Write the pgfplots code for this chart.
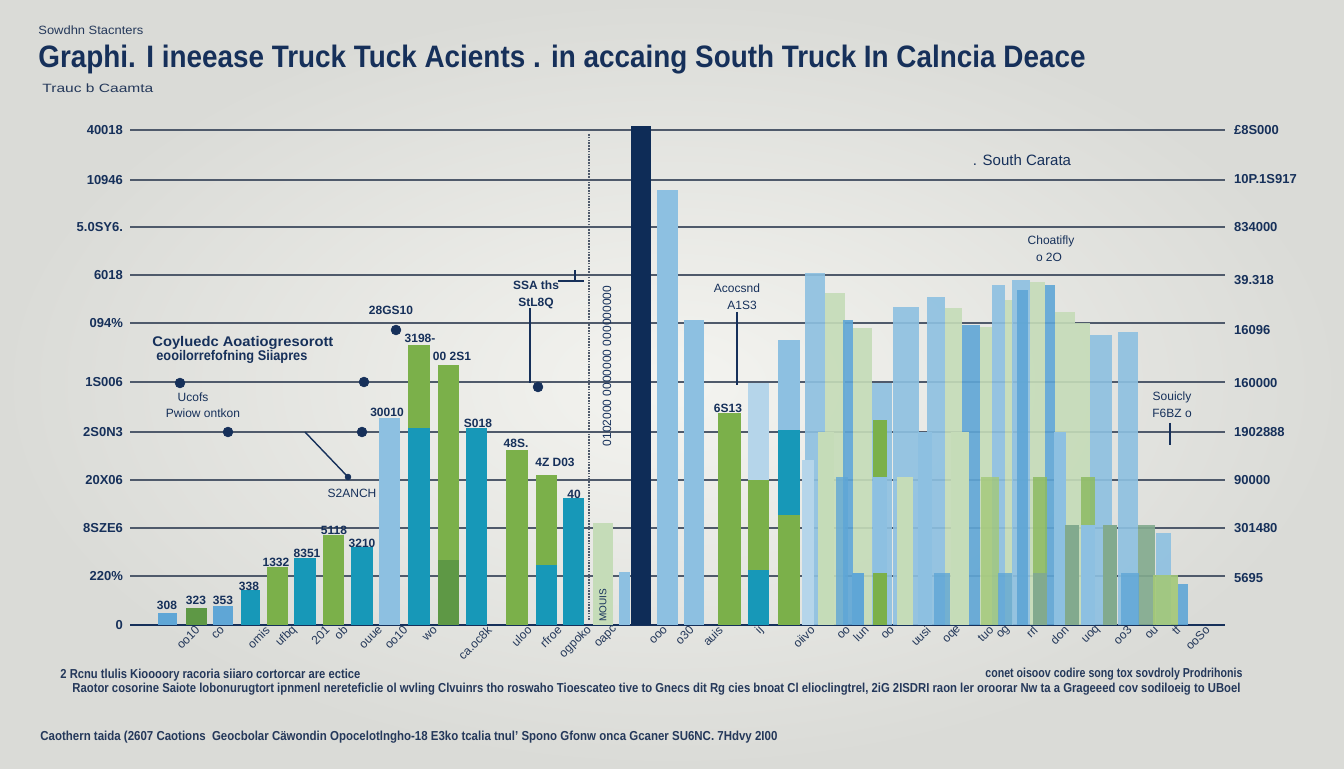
\documentclass[border=0pt]{standalone}
\usepackage{fontspec}
\setmainfont{Liberation Sans}
\usepackage{graphicx}
\usepackage{pgfplots}
\pgfplotsset{compat=1.18}
\definecolor{navy}{HTML}{16305A}
\definecolor{darknavy}{HTML}{0E2C57}
\definecolor{gridc}{HTML}{4F5A6B}
\definecolor{lblue}{HTML}{8DC0E1}
\definecolor{plblue}{HTML}{B5D5EA}
\definecolor{mblue}{HTML}{5FA6D6}
\definecolor{tealc}{HTML}{1798B8}
\definecolor{grn}{HTML}{7BB04A}
\definecolor{grnb}{HTML}{A3C878}
\definecolor{grnc}{HTML}{8DBB62}
\definecolor{dgrn}{HTML}{5E9845}
\definecolor{pgrn}{HTML}{C5DCB8}
\definecolor{sage}{HTML}{82AA8E}
\definecolor{bglight}{HTML}{F4F4F0}
\definecolor{bgdark}{HTML}{DADBD7}
\definecolor{txt}{HTML}{24385A}
\newcommand\tk{\fontsize{6.5}{7.5}\selectfont\bfseries}
\newcommand\bl{\fontsize{6}{7}\selectfont\bfseries}
\newcommand\sm{\fontsize{6}{7}\selectfont}
\pgfplotsset{B/.style={ybar, bar shift=0pt, draw=none, fill=#1}}
\begin{document}
\begin{tikzpicture}
\path[use as bounding box] (0,0) rectangle (672pt,384pt);
\shade[inner color=bglight, outer color=bgdark] (0,0) rectangle (672pt,384pt);
% header
\node[anchor=west, text=txt, inner sep=0pt] at (19pt,369pt) {\resizebox{52.5pt}{\height}{\sm Sowdhn Stacnters}};
\node[anchor=base west, text=navy, inner sep=0pt] at (19pt,350pt) {\resizebox{523.5pt}{\height}{\fontsize{15.5}{18}\selectfont\bfseries Graphi. I ineease Truck Tuck Acients . in accaing South Truck In Calncia Deace}};
\node[anchor=west, text=txt, inner sep=0pt] at (21pt,340pt) {\resizebox{55.5pt}{\height}{\sm Trauc b Caamta}};
% footer texts
\node[anchor=west, text=txt, inner sep=0pt] at (30pt,46.5pt) {\resizebox{150pt}{\height}{\tk 2 Rcnu tlulis Kioooory racoria siiaro cortorcar are ectice}};
\node[anchor=west, text=txt, inner sep=0pt] at (492.5pt,47pt) {\resizebox{128.5pt}{\height}{\tk conet oisoov codire song tox sovdroly Prodrihonis}};
\node[anchor=west, text=txt, inner sep=0pt] at (36pt,39.5pt) {\resizebox{584pt}{\height}{\tk Raotor cosorine Saiote lobonurugtort ipnmenl nereteficlie ol wvling Clvuinrs tho roswaho Tioescateo tive to Gnecs dit Rg cies bnoat Cl elioclingtrel, 2iG 2ISDRI raon ler oroorar Nw ta a Grageeed cov sodiloeig to UBoel}};
\node[anchor=west, text=txt, inner sep=0pt] at (20pt,15.5pt) {\resizebox{368.5pt}{\height}{\tk Caothern taida (2607 Caotions \ Geocbolar C\"awondin Opocelotlngho-18 E3ko tcalia tnul' Spono Gfonw onca Gcaner SU6NC. 7Hdvy 2I00}};

\begin{axis}[
  at={(65pt,71.5pt)}, anchor=south west,
  scale only axis, width=547.5pt, height=249.5pt,
  xmin=130, xmax=1225, ymin=0, ymax=499,
  axis x line*=bottom, axis y line*=left,
  x axis line style={draw=navy, line width=1pt, -},
  y axis line style={draw=none},
  ymajorgrids, grid style={gridc, line width=0.75pt},
  major tick length=0pt,
  ytick={0,49,97,145,193,243,302,350,398,445,495},
  yticklabels={0,220\%,8SZE6,20X06,2S0N3,1S006,094\%,6018,5.0SY6.,10946,40018},
  yticklabel style={font=\tk, text=navy},
  xtick={195,220,265,292,325,343,378,403,433,487,527,557,587,613,663,689,718,759,810,846,864,890,926,957,989,1006,1033,1064,1096,1127,1154,1176,1205},
  xticklabels={oo10,co,omis,ufbq,201,ob,ouue,oo10,wo,ca.oc8k,uloo,rfroe,ogpoko,oapc,ooo,o30,auis,ij,oiivo,oo,lun,oo,uusi,oqe,tuo,og,rrl,don,uoq,oo3,ou,tf,ooSo},
  xticklabel style={rotate=45, anchor=east, font=\fontsize{6}{7}\selectfont, text=txt, inner sep=0pt, yshift=-2pt},
  clip=false,
]
% main bars
\addplot[B=mblue, bar width=19] coordinates {(167,12)};
\addplot[B=dgrn, bar width=21] coordinates {(196,17)};
\addplot[B=mblue, bar width=20] coordinates {(223,19)};
\addplot[B=tealc, bar width=19] coordinates {(250,35)};
\addplot[B=grn, bar width=21] coordinates {(277,58)};
\addplot[B=tealc, bar width=22] coordinates {(305,67)};
\addplot[B=grn, bar width=21] coordinates {(333,90)};
\addplot[B=tealc, bar width=22] coordinates {(362,78)};
\addplot[B=lblue, bar width=21] coordinates {(389,207)};
\addplot[B=grn, bar width=22] coordinates {(419,280)};
\addplot[B=tealc, bar width=22] coordinates {(419,197)};
\addplot[B=grn, bar width=21] coordinates {(448,260)};
\addplot[B=dgrn, bar width=21] coordinates {(448,65)};
\addplot[B=tealc, bar width=21] coordinates {(476,197)};
\addplot[B=grn, bar width=22] coordinates {(517,175)};
\addplot[B=grn, bar width=21] coordinates {(546,150)};
\addplot[B=tealc, bar width=21] coordinates {(546,60)};
\addplot[B=tealc, bar width=21] coordinates {(573,127)};
\addplot[B=pgrn, bar width=20] coordinates {(603,102)};
\addplot[B=lblue, bar width=11] coordinates {(624,53)};
\addplot[B=darknavy, bar width=20] coordinates {(641,499)};
\addplot[B=lblue, bar width=21] coordinates {(667,435)};
\addplot[B=lblue, bar width=20] coordinates {(694,305)};
\addplot[B=grn, bar width=23] coordinates {(729,212)};
\addplot[B=plblue, bar width=21] coordinates {(758,242)};
\addplot[B=grn, bar width=21] coordinates {(758,145)};
\addplot[B=tealc, bar width=21] coordinates {(758,55)};
\addplot[B=lblue, bar width=22] coordinates {(789,285)};
\addplot[B=tealc, bar width=22] coordinates {(789,195)};
\addplot[B=grn, bar width=22] coordinates {(789,110)};
% cluster, back layer
\addplot[B=lblue, bar width=20, fill opacity=0.9] coordinates {(815,352)};
\addplot[B=pgrn, bar width=20, fill opacity=0.9] coordinates {(835,332)};
\addplot[B=mblue, bar width=10, fill opacity=0.9] coordinates {(848,305)};
\addplot[B=pgrn, bar width=19, fill opacity=0.9] coordinates {(862,297)};
\addplot[B=lblue, bar width=20, fill opacity=0.9] coordinates {(882,242)};
\addplot[B=lblue, bar width=26, fill opacity=0.9] coordinates {(906,318)};
\addplot[B=lblue, bar width=18, fill opacity=0.9] coordinates {(936,328)};
\addplot[B=pgrn, bar width=17, fill opacity=0.9] coordinates {(953,317)};
\addplot[B=mblue, bar width=18, fill opacity=0.9] coordinates {(971,300)};
\addplot[B=pgrn, bar width=12, fill opacity=0.9] coordinates {(986,298)};
\addplot[B=lblue, bar width=13, fill opacity=0.9] coordinates {(998,340)};
\addplot[B=pgrn, bar width=8, fill opacity=0.9] coordinates {(1009,325)};
\addplot[B=lblue, bar width=18, fill opacity=0.9] coordinates {(1021,345)};
\addplot[B=mblue, bar width=11, fill opacity=0.9] coordinates {(1022,335)};
\addplot[B=pgrn, bar width=15, fill opacity=0.9] coordinates {(1037,343)};
\addplot[B=mblue, bar width=10, fill opacity=0.9] coordinates {(1050,340)};
\addplot[B=pgrn, bar width=20, fill opacity=0.9] coordinates {(1065,313)};
\addplot[B=pgrn, bar width=15, fill opacity=0.9] coordinates {(1082,302)};
\addplot[B=lblue, bar width=22, fill opacity=0.9] coordinates {(1101,290)};
\addplot[B=lblue, bar width=20, fill opacity=0.9] coordinates {(1128,293)};
\addplot[B=sage, bar width=17, fill opacity=0.9] coordinates {(1146,100)};
\addplot[B=lblue, bar width=15, fill opacity=0.9] coordinates {(1163,92)};
\addplot[B=grnb, bar width=25, fill opacity=0.9] coordinates {(1165,50)};
\addplot[B=mblue, bar width=10, fill opacity=0.9] coordinates {(1183,41)};
% cluster, front layer
\addplot[B=plblue, bar width=12] coordinates {(808,165)};
\addplot[B=pgrn, bar width=16] coordinates {(826,193)};
\addplot[B=mblue, bar width=12, fill opacity=0.8] coordinates {(842,148)};
\addplot[B=grn, bar width=14] coordinates {(880,205)};
\addplot[B=lblue, bar width=14] coordinates {(880,148)};
\addplot[B=grn, bar width=14] coordinates {(880,52)};
\addplot[B=mblue, bar width=12] coordinates {(858,52)};
\addplot[B=pgrn, bar width=16] coordinates {(905,148)};
\addplot[B=lblue, bar width=14] coordinates {(925,193)};
\addplot[B=mblue, bar width=16, fill opacity=0.8] coordinates {(942,52)};
\addplot[B=pgrn, bar width=18] coordinates {(960,193)};
\addplot[B=grnb, bar width=18, fill opacity=0.8] coordinates {(990,148)};
\addplot[B=mblue, bar width=14, fill opacity=0.8] coordinates {(1005,52)};
\addplot[B=grnc, bar width=14, fill opacity=0.85] coordinates {(1040,148)};
\addplot[B=sage, bar width=14] coordinates {(1040,52)};
\addplot[B=lblue, bar width=12] coordinates {(1060,193)};
\addplot[B=sage, bar width=14] coordinates {(1072,100)};
\addplot[B=grnc, bar width=14, fill opacity=0.85] coordinates {(1088,148)};
\addplot[B=lblue, bar width=14] coordinates {(1088,100)};
\addplot[B=sage, bar width=14] coordinates {(1110,100)};
\addplot[B=mblue, bar width=18, fill opacity=0.8] coordinates {(1130,52)};
% dotted divider and annotation lines
\addplot[gridc, line width=1.2pt, dash pattern=on 0.8pt off 0.6pt] coordinates {(589,5) (589,492)};
\addplot[navy, line width=0.7pt] coordinates {(305,193) (348,148)};
\addplot[navy, line width=0.7pt] coordinates {(530,317) (530,242)};
\addplot[navy, line width=0.7pt] coordinates {(558,344) (584,344)};
\addplot[navy, line width=0.7pt] coordinates {(575,355) (575,344)};
\addplot[navy, line width=0.7pt] coordinates {(737,313) (737,240)};
\addplot[navy, line width=1.4pt] coordinates {(1170,202) (1170,180)};
\addplot[only marks, mark=*, mark size=2.4pt, navy] coordinates {(180,242) (228,193) (364,243) (362,193) (396,295) (538,238)};
\addplot[only marks, mark=*, mark size=1.4pt, navy] coordinates {(348,148)};
% annotations
\node[text=navy, font=\bl] at (391,315) {28GS10};
\node[anchor=west, text=navy, inner sep=0pt] at (152,282) {\resizebox{90.5pt}{\height}{\fontsize{7}{8}\selectfont\bfseries Coyluedc Aoatiogresorott}};
\node[anchor=west, text=navy, inner sep=0pt] at (156,268) {\resizebox{75.5pt}{\height}{\fontsize{7}{8}\selectfont\bfseries eooilorrefofning Siiapres}};
\node[text=navy, font=\sm] at (193,228) {Ucofs};
\node[text=navy, font=\sm] at (203,212) {Pwiow ontkon};
\node[text=navy, font=\sm] at (352,132) {S2ANCH};
\node[text=navy, font=\bl] at (536,340) {SSA ths};
\node[text=navy, font=\bl] at (536,322) {StL8Q};
\node[text=navy, font=\sm] at (737,337) {Acocsnd};
\node[text=navy, font=\sm] at (742,320) {A1S3};
\node[text=navy, font=\sm] at (1051,384) {Choatifly};
\node[text=navy, font=\sm] at (1049,368) {o 2O};
\node[text=navy, font=\fontsize{7.5}{8.5}\selectfont] at (1022,465) {. South Carata};
\node[text=navy, font=\sm] at (1172,228) {Souicly};
\node[text=navy, font=\sm] at (1172,212) {F6BZ o};
\node[text=navy, font=\sm, rotate=90] at (607,259) {0102000 0000000 000000000};
\node[text=navy, font=\fontsize{5}{6}\selectfont, rotate=90] at (603,20) {MOUIS};
% bar value labels
\node[text=navy, font=\bl] at (167,20) {308};
\node[text=navy, font=\bl] at (196,25) {323};
\node[text=navy, font=\bl] at (223,25) {353};
\node[text=navy, font=\bl] at (249,39) {338};
\node[text=navy, font=\bl] at (276,63) {1332};
\node[text=navy, font=\bl] at (307,72) {8351};
\node[text=navy, font=\bl] at (334,95) {5118};
\node[text=navy, font=\bl] at (362,82) {3210};
\node[text=navy, font=\bl] at (387,213) {30010};
\node[text=navy, font=\bl] at (420,287) {3198-};
\node[text=navy, font=\bl] at (452,269) {00 2S1};
\node[text=navy, font=\bl] at (478,202) {S018};
\node[text=navy, font=\bl] at (516,182) {48S.};
\node[text=navy, font=\bl] at (555,163) {4Z D03};
\node[text=navy, font=\bl] at (574,131) {40};
\node[text=navy, font=\bl] at (728,217) {6S13};
\end{axis}
% right-hand labels
\begin{axis}[
  at={(65pt,71.5pt)}, anchor=south west,
  scale only axis, width=547.5pt, height=249.5pt,
  xmin=130, xmax=1225, ymin=0, ymax=499,
  axis x line=none, axis y line*=right,
  y axis line style={draw=none},
  major tick length=0pt,
  ytick={47,97,145,193,242,295,345,398,446,495},
  yticklabels={5695,301480,90000,1902888,160000,16096,39.318,834000,10P.1S917,\pounds8S000},
  yticklabel style={font=\tk, text=navy, anchor=west, xshift=1pt},
]
\end{axis}
\end{tikzpicture}
\end{document}
